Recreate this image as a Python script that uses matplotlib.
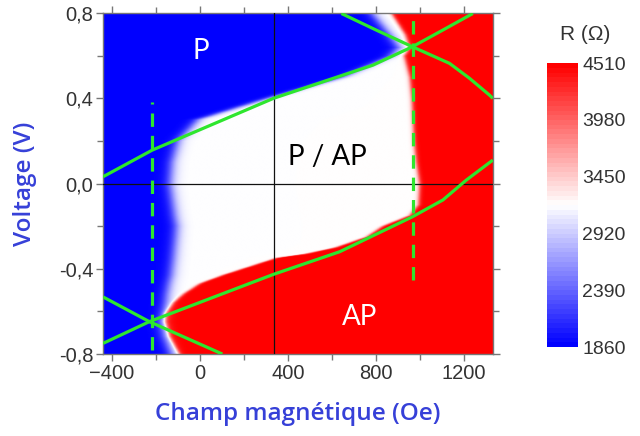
import numpy as np
import matplotlib
matplotlib.use('Agg')
import matplotlib.pyplot as plt
from matplotlib.colors import Normalize
from matplotlib.cm import ScalarMappable

# ---------------- data ----------------
# per voltage row: field where blue (P) ends, field where red (AP) starts
row_voltage = [-0.80, -0.72, -0.65, -0.61, -0.56, -0.52, -0.47, -0.43, -0.39,
               -0.35, -0.33, -0.30, -0.25, -0.20, -0.15, -0.10, 0.00, 0.10,
               0.20, 0.30, 0.40, 0.50, 0.60, 0.64, 0.70, 0.80]
blue_end_field = [-130, -160, -175, -165, -155, -150, -140, -130, -125,
                  -120, -118, -115, -110, -106, -115, -122, -136, -127,
                  -100, -10, 305, 650, 870, 905, 865, 786]
red_start_field = [-95, -140, -160, -159, -121, -76, 0, 106, 227,
                   348, 485, 620, 760, 833, 955, 995, 1000, 985,
                   975, 970, 965, 955, 930, 955, 935, 873]

R_P, R_MID, R_AP = 1860, 3185, 4510
cbar_ticks = [1860, 2390, 2920, 3450, 3980, 4510]

# green switching-field curves
curveA_field = [-441, -217, 335, 561, 788, 967, 1091, 1242]
curveA_volt = [0.032, 0.157, 0.400, 0.478, 0.556, 0.642, 0.712, 0.798]
curveB_field = [644, 803, 967, 1136, 1227, 1318, 1333]
curveB_volt = [0.798, 0.720, 0.642, 0.564, 0.494, 0.415, 0.400]
curveC_field = [-441, -230, 335, 636, 967, 1106, 1212, 1333]
curveC_volt = [-0.750, -0.648, -0.426, -0.320, -0.156, -0.077, 0.016, 0.110]
curveD_field = [-441, -230, 102]
curveD_volt = [-0.532, -0.648, -0.800]

dashL_field, dashL_volt = [-218, -218], [-0.78, 0.385]
dashR_field, dashR_volt = [968, 968], [-0.454, 0.80]

cross_field = 335
xlim = (-441, 1333)
ylim = (-0.8, 0.8)
xticks = [-400, 0, 400, 800, 1200]
yticks = [-0.8, -0.4, 0.0, 0.4, 0.8]
ytick_labels = ['-0,8', '-0,4', '0,0', '0,4', '0,8']

# ---------------- figure ----------------
fig = plt.figure(figsize=(6.4, 4.36), dpi=100)
ax = fig.add_axes([0.161, 0.188, 0.609, 0.782])

H = np.linspace(xlim[0], xlim[1], 600)
V = np.linspace(ylim[0], ylim[1], 400)
hb = np.interp(V, row_voltage, blue_end_field)[:, None]
hr = np.interp(V, row_voltage, red_start_field)[:, None]
HH = H[None, :]
wb, wr = 16.0, 6.0
R = (R_P + (R_MID - R_P) / (1 + np.exp(-(HH - hb) / wb))
     + (R_AP - R_MID) / (1 + np.exp(-(HH - hr) / wr)))

cmap = plt.get_cmap('bwr')
norm = Normalize(vmin=R_P, vmax=R_AP)
ax.imshow(R, origin='lower', aspect='auto', cmap=cmap, norm=norm,
          extent=[xlim[0], xlim[1], ylim[0], ylim[1]], interpolation='bilinear')

ax.axvline(cross_field, color='#111111', lw=0.9, zorder=3)
ax.axhline(0.0, color='#111111', lw=0.9, zorder=3)

green = '#2ee62e'
for f, v in [(curveA_field, curveA_volt), (curveB_field, curveB_volt),
             (curveC_field, curveC_volt), (curveD_field, curveD_volt)]:
    ax.plot(f, v, color=green, lw=2.3, solid_capstyle='butt', zorder=4)
for f, v in [(dashL_field, dashL_volt), (dashR_field, dashR_volt)]:
    ax.plot(f, v, color=green, lw=2.3, dashes=(4.2, 2.8), zorder=4)

ax.text(5, 0.62, 'P', color='white', fontsize=20, family='Lato',
        ha='center', va='center', zorder=5)
ax.text(582, 0.124, 'P / AP', color='black', fontsize=20,
        family='Lato', ha='center', va='center', zorder=5)
ax.text(727, -0.625, 'AP', color='white', fontsize=20, family='Lato',
        ha='center', va='center', zorder=5)

ax.set_xlim(*xlim)
ax.set_ylim(*ylim)
ax.set_xticks(xticks)
ax.set_xticks(np.arange(-400, 1400, 200), minor=True)
ax.set_yticks(yticks)
ax.set_yticklabels(ytick_labels)
ax.set_yticks(np.arange(-0.8, 0.81, 0.2), minor=True)
ax.tick_params(which='both', direction='out', top=True, right=True,
               labeltop=False, labelright=False, color='#777777', width=1)
ax.tick_params(which='major', length=5, labelsize=14.5, labelcolor='#333333', pad=2)
ax.tick_params(which='minor', length=4)
for lab in ax.get_xticklabels() + ax.get_yticklabels():
    lab.set_family('Liberation Sans')
for s in ax.spines.values():
    s.set_color('#777777')
    s.set_linewidth(1)

blue_lab = '#3640d8'
ax.set_xlabel('Champ magnétique (Oe)', color=blue_lab, fontsize=17.5,
              family='Open Sans', fontweight='semibold', labelpad=14)
ax.set_ylabel('Voltage (V)', color=blue_lab, fontsize=17.5,
              family='Open Sans', fontweight='semibold', labelpad=16)

# colorbar
cax = fig.add_axes([0.855, 0.204, 0.048, 0.651])
sm = ScalarMappable(norm=norm, cmap=plt.get_cmap('bwr', 60))
cb = fig.colorbar(sm, cax=cax, ticks=cbar_ticks)
cb.outline.set_visible(False)
cax.tick_params(length=0, labelsize=14, labelcolor='#333333', pad=3)
for lab in cax.get_yticklabels():
    lab.set_family('Liberation Sans')
fig.text(0.914, 0.922, 'R (Ω)', fontsize=15, family='Liberation Sans',
         color='#333333', ha='center', va='center')

fig.savefig('out.png', dpi=100)
